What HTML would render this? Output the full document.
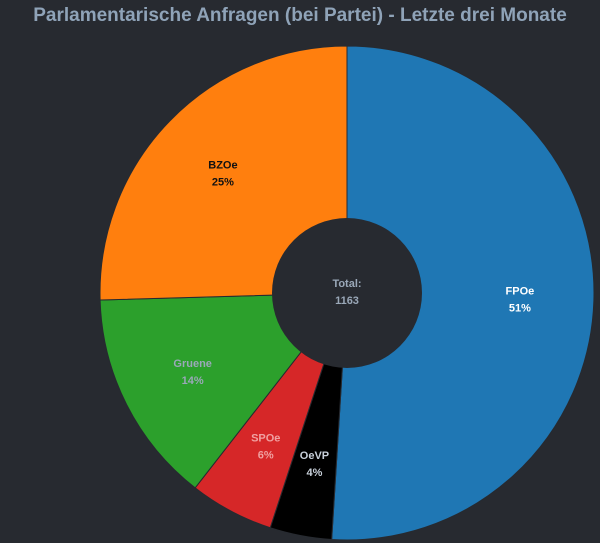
<!DOCTYPE html>
<html><head><meta charset="utf-8"><style>
body{margin:0;background:#272a30;}
svg{display:block;font-family:"Liberation Sans",sans-serif;}
</style></head><body>
<svg id="c" width="600" height="543">
<text x="300" y="21" text-anchor="middle" font-size="19" font-weight="bold" fill="#8fa3b8">Parlamentarische Anfragen (bei Partei) - Letzte drei Monate</text>
</svg>
<script>
const categories=["FPOe","OeVP","SPOe","Gruene","BZOe"];
const values=[593,47,64,163,296];
const colors=["#1f77b4","#000000","#d62728","#2ca02c","#ff7f0e"];
const labelColors=["#ffffff","#c8d0da","#f0a0a0","#9aa8b8","#111111"];
const svg=document.getElementById('c');
const NS="http://www.w3.org/2000/svg";
const cx=347,cy=293,R=247,r0=75,lr=173;
const total=values.reduce((a,b)=>a+b,0);
function pt(a,rad){return [cx+rad*Math.sin(a),cy-rad*Math.cos(a)];}
let a=0;
values.forEach((v,i)=>{
  const da=v/total*2*Math.PI,a1=a+da;
  const p0=pt(a,R),p1=pt(a1,R);
  const path=document.createElementNS(NS,'path');
  path.setAttribute('d',`M${cx},${cy}L${p0[0]},${p0[1]}A${R},${R} 0 ${da>Math.PI?1:0} 1 ${p1[0]},${p1[1]}Z`);
  path.setAttribute('fill',colors[i]);
  path.setAttribute('stroke','#272a30');
  path.setAttribute('stroke-width','1');
  
  
  svg.appendChild(path);
  const m=pt(a+da/2,lr);
  const t=document.createElementNS(NS,'text');
  t.setAttribute('x',m[0]);t.setAttribute('y',m[1]-4);
  t.setAttribute('text-anchor','middle');t.setAttribute('font-size','11');t.setAttribute('font-weight','bold');
  t.setAttribute('fill',labelColors[i]);
  
  
  t.innerHTML=`<tspan x="${m[0]}">${categories[i]}</tspan><tspan x="${m[0]}" dy="17">${Math.round(v/total*100)}%</tspan>`;
  svg.appendChild(t);
  a=a1;
});
const hole=document.createElementNS(NS,'circle');
hole.setAttribute('cx',cx);hole.setAttribute('cy',cy);hole.setAttribute('r',r0);hole.setAttribute('fill','#272a30');


svg.appendChild(hole);
const tt=document.createElementNS(NS,'text');
tt.setAttribute('x',cx);tt.setAttribute('y',cy-6);tt.setAttribute('text-anchor','middle');tt.setAttribute('font-size','11');tt.setAttribute('font-weight','bold');tt.setAttribute('fill','#9aa8b8');


tt.innerHTML=`<tspan x="${cx}">Total:</tspan><tspan x="${cx}" dy="17">${total}</tspan>`;
svg.appendChild(tt);
</script>
</body></html>
